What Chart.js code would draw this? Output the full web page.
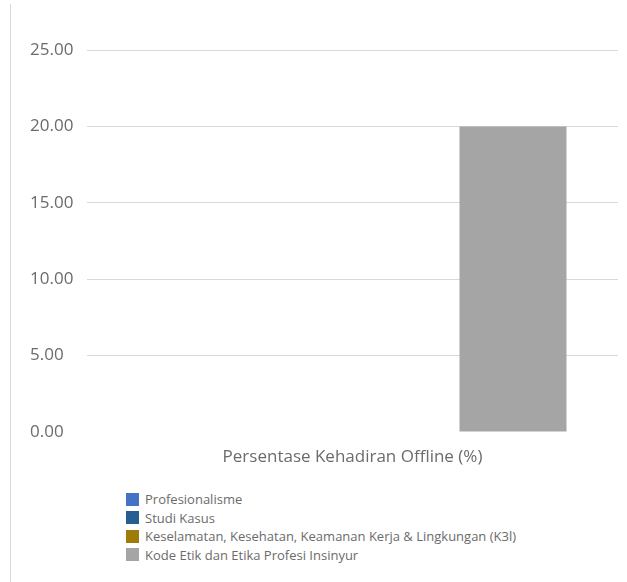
<!DOCTYPE html>
<html>
<head>
<meta charset="utf-8">
<script src="https://cdn.jsdelivr.net/npm/chart.js@4"></script>
<style>
  html, body { margin: 0; padding: 0; background: #ffffff; }
  #wrap { position: relative; width: 627px; height: 582px; overflow: hidden; }
  #frame { position: absolute; left: 10px; top: 4px; bottom: 0; width: 0; border-left: 1px solid #d9d9d9; }
  #c { position: absolute; left: 0; top: 0; }
  #legend { position: absolute; left: 126px; top: 490px; font-family: "Open Sans", sans-serif; font-size: 13px; color: #6b6b6b; }
  .item { display: flex; align-items: center; height: 18.5px; white-space: nowrap; }
  .sw { width: 13px; height: 13px; margin-right: 6px; flex: none; }
</style>
</head>
<body>
<div id="wrap">
  <div id="frame"></div>
  <canvas id="c" width="627" height="480"></canvas>
  <div id="legend"></div>
</div>
<script>
const categories = ["Persentase Kehadiran Offline (%)"];
const seriesNames = [
  "Profesionalisme",
  "Studi Kasus",
  "Keselamatan, Kesehatan, Keamanan Kerja & Lingkungan (K3l)",
  "Kode Etik dan Etika Profesi Insinyur"
];
const profesionalisme = [0];
const studiKasus = [0];
const k3l = [0];
const kodeEtik = [20];
const seriesColors = ["#4472C4", "#255E91", "#9E7C0C", "#A5A5A5"];
const yMin = 0, yMax = 25, yStep = 5;

const seriesValues = [profesionalisme, studiKasus, k3l, kodeEtik];
const textColor = "#6b6b6b";
const fontFam = "'Open Sans', sans-serif";

const chart = new Chart(document.getElementById("c"), {
  type: "bar",
  data: {
    labels: categories,
    datasets: seriesNames.map((n, i) => ({
      label: n,
      data: seriesValues[i],
      backgroundColor: seriesColors[i],
      borderWidth: 0,
      barPercentage: 1,
      categoryPercentage: 0.806
    }))
  },
  options: {
    responsive: false,
    devicePixelRatio: 1,
    animation: false,
    layout: { padding: { left: 30, right: 9, top: 50, bottom: 0 } },
    plugins: { legend: { display: false }, tooltip: { enabled: false } },
    scales: {
      y: {
        min: yMin, max: yMax,
        border: { display: false },
        grid: {
          drawTicks: false,
          color: ctx => (ctx.tick && ctx.tick.value === 0) ? "rgba(0,0,0,0)" : "#d9d9d9",
          lineWidth: 1
        },
        ticks: {
          stepSize: yStep,
          crossAlign: "far",
          color: textColor,
          font: { family: fontFam, size: 17 },
          callback: v => Number(v).toFixed(2)
        },
        afterFit: s => { s.width = 57; }
      },
      x: {
        border: { display: false },
        grid: { display: false, drawTicks: false },
        ticks: {
          color: textColor,
          padding: 15,
          font: { family: fontFam, size: 17 }
        },
        afterFit: s => { s.height = 48; }
      }
    }
  }
});

const leg = document.getElementById("legend");
chart.data.datasets.forEach(ds => {
  const row = document.createElement("div");
  row.className = "item";
  const sw = document.createElement("span");
  sw.className = "sw";
  sw.style.background = ds.backgroundColor;
  const t = document.createElement("span");
  t.textContent = ds.label;
  row.appendChild(sw);
  row.appendChild(t);
  leg.appendChild(row);
});
</script>
</body>
</html>
